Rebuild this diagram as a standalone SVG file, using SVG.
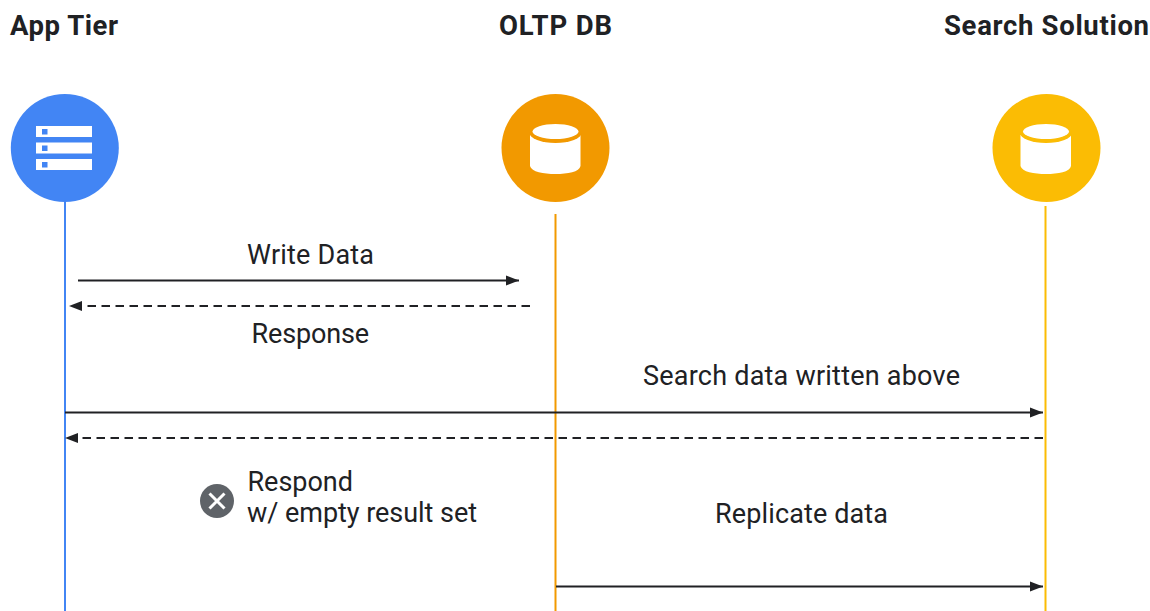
<svg xmlns="http://www.w3.org/2000/svg" width="1150" height="611" viewBox="0 0 1150 611">
<style>
text{font-family:"Roboto","Liberation Sans",sans-serif;font-size:27px;fill:#202124}
.h{font-weight:700;font-size:27.500px}
.c{stroke:#202124;stroke-width:2;fill:none}
.d{stroke-dasharray:8.500 5.500}
.w{fill:#fff}
</style>
<defs>
<marker id="a" markerUnits="userSpaceOnUse" markerWidth="14" markerHeight="11" refX="13" refY="5.500" orient="auto-start-reverse"><path d="M0 0.500L13 5.500L0 10.500Z" fill="#202124"/></marker>
<g id="db"><path class="w" d="M-25.500 7H25V38C24 44 12 46 0 46C-12 46 -24 44 -25.500 38Z"/></g>
</defs>
<rect width="1150" height="611" fill="#fff"/>
<g id="lifelines" fill="none" stroke-width="2">
<path d="M65 200V611" stroke="#4285f4"/>
<path d="M555.500 214V611" stroke="#f29900"/>
<path d="M1045.500 206V611" stroke="#fbbc04"/>
</g>
<g id="app-tier">
<text class="h" x="10" y="35" textLength="108">App Tier</text>
<circle cx="64.800" cy="148" r="54" fill="#4285f4"/>
<g fill="#fff"><rect x="36" y="126" width="56" height="11"/><rect x="36" y="142.500" width="56" height="11"/><rect x="36" y="159" width="56" height="11"/></g>
<g fill="#4285f4"><rect x="42" y="129" width="5.500" height="5.500"/><rect x="42" y="145.500" width="5.500" height="5.500"/><rect x="42" y="162" width="5.500" height="5.500"/></g>
</g>
<g id="oltp-db">
<text class="h" x="499" y="35" textLength="113">OLTP DB</text>
<circle cx="555.500" cy="148" r="54" fill="#f29900"/>
<use href="#db" x="555.500" y="128"/>
<ellipse cx="555.500" cy="133" rx="26" ry="10" fill="#f29900"/>
<ellipse cx="555.500" cy="131.500" rx="23" ry="7.500" fill="#fff"/>
</g>
<g id="search-solution">
<text class="h" x="944" y="35" textLength="205">Search Solution</text>
<circle cx="1046.500" cy="148" r="54" fill="#fbbc04"/>
<use href="#db" x="1046" y="128"/>
<ellipse cx="1046" cy="133" rx="26" ry="10" fill="#fbbc04"/>
<ellipse cx="1046" cy="131.500" rx="23" ry="7.500" fill="#fff"/>
</g>
<g id="connectors">
<path class="c" d="M78 280.500H519" marker-end="url(#a)"/>
<path class="c d" d="M530 306H69" marker-end="url(#a)"/>
<path class="c" d="M65 412.500H1043" marker-end="url(#a)"/>
<path class="c d" d="M1043 438H65" marker-end="url(#a)"/>
<path class="c" d="M556 586.500H1043" marker-end="url(#a)"/>
</g>
<g id="labels">
<text x="247" y="264" textLength="127">Write Data</text>
<text x="251.500" y="343" textLength="117.500">Response</text>
<text x="643" y="385" textLength="317">Search data written above</text>
<text x="247.500" y="490.500" textLength="105.500">Respond</text>
<text x="247" y="522" textLength="230">w/ empty result set</text>
<text x="715" y="523" textLength="173">Replicate data</text>
</g>
<g id="error-icon">
<circle cx="217" cy="501" r="17" fill="#5f6368"/>
<path d="M209.500 493.500L224.500 508.500M224.500 493.500L209.500 508.500" stroke="#fff" stroke-width="3" fill="none"/>
</g>
</svg>
